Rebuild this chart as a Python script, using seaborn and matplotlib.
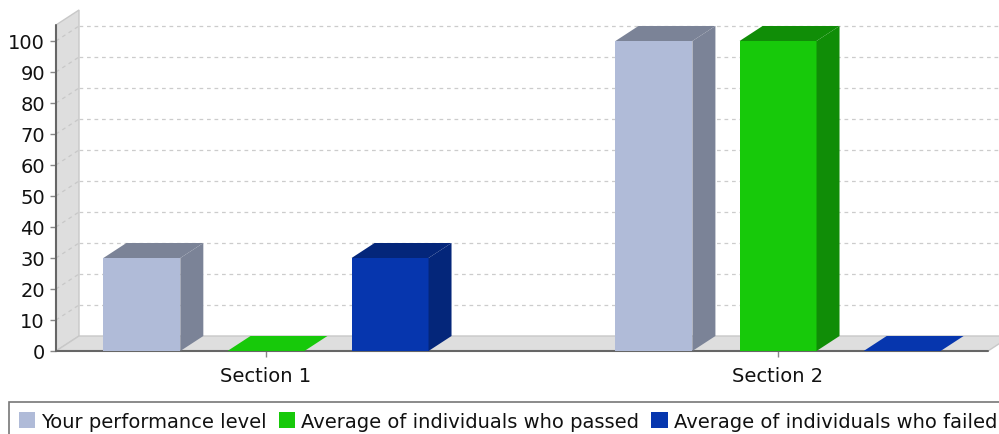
import pandas as pd
import seaborn as sns
import matplotlib.pyplot as plt
import matplotlib.transforms as mtransforms
from matplotlib.patches import Polygon, Patch

# data
sections = ["Section 1", "Section 2"]
series = ["Your performance level",
          "Average of individuals who passed",
          "Average of individuals who failed"]
you = [30, 100]
passed = [0, 100]
failed = [30, 0]
colors = ["#b0bbd8", "#17c90a", "#0636ae"]

rows = []
for i, sec in enumerate(sections):
    for name, vals in zip(series, [you, passed, failed]):
        rows.append({"Section": sec, "Series": name, "Value": vals[i]})
data = pd.DataFrame(rows)

sns.set_style("white")
plt.rcParams["font.family"] = ["DejaVu Sans"]

W, H = 999, 435
fig = plt.figure(figsize=(W / 100, H / 100), dpi=100)
ax = fig.add_axes([56 / W, 83 / H, 932 / W, 326 / H])

sns.barplot(data=data, x="Section", y="Value", hue="Series", palette=colors,
            width=0.727, gap=0.38, legend=False, ax=ax, linewidth=0,
            saturation=1, zorder=5)

ax.set_xlim(-0.41, 1.41)
ax.set_ylim(0, 105.16)
ax.set_yticks(range(0, 101, 10))
ax.set_xlabel("")
ax.set_ylabel("")
for s in ax.spines.values():
    s.set_visible(False)
ax.tick_params(axis="y", length=4, width=1, color="#888888", pad=4,
               labelsize=14, labelcolor="#111111", left=True)
ax.tick_params(axis="x", length=4, width=1, color="#888888", pad=6.5,
               labelsize=14, labelcolor="#111111", bottom=True)

# 3d depth offset in pixels
DX, DY = 23, 15
back = ax.transData + mtransforms.ScaledTranslation(DX / 100, DY / 100, fig.dpi_scale_trans)


def to_back(x, y):
    px, py = ax.transData.transform((x, y))
    return ax.transData.inverted().transform((px + DX, py + DY))


def darker(c, f=0.7):
    return tuple(v * f for v in c[:3])


x0, x1 = ax.get_xlim()
y0, y1 = ax.get_ylim()

# left wall and floor
wall = [(x0, y0), (x0, y1), tuple(to_back(x0, y1)), tuple(to_back(x0, y0))]
ax.add_patch(Polygon(wall, closed=True, fc="#dedede", ec="#c8c8c8", lw=1,
                     clip_on=False, zorder=1))
floor = [(x0, y0), (x1, y0), tuple(to_back(x1, y0)), tuple(to_back(x0, y0))]
ax.add_patch(Polygon(floor, closed=True, fc="#dedede", ec="#c8c8c8", lw=1,
                     clip_on=False, zorder=1))

# grid lines on the back plane and the wall
for v in range(10, 101, 10):
    ax.plot([x0, x1 + 0.1], [v, v], transform=back, color="#cccccc", lw=0.9,
            ls=(0, (3, 3)), clip_on=False, zorder=2)
    bx, by = to_back(x0, v)
    ax.plot([x0, bx], [v, by], color="#c8c8c8", lw=0.9, ls=(0, (3, 3)),
            clip_on=False, zorder=2)

# axis lines
ax.plot([x0, x0], [y0, y1], color="#666666", lw=1.5, clip_on=False, zorder=3)
ax.plot([x0, x1], [y0, y0], color="#666666", lw=1.5, clip_on=False, zorder=3)

# 3d faces for each bar
for p in ax.patches:
    if not hasattr(p, "get_width") or p.get_zorder() != 5:
        continue
    bx0 = p.get_x()
    bx1 = bx0 + p.get_width()
    top = p.get_height()
    dc = darker(p.get_facecolor())
    side = [(bx1, 0), (bx1, top), tuple(to_back(bx1, top)), tuple(to_back(bx1, 0))]
    cap = [(bx0, top), (bx1, top), tuple(to_back(bx1, top)), tuple(to_back(bx0, top))]
    if top > 0:
        ax.add_patch(Polygon(side, closed=True, fc=dc, lw=0, clip_on=False, zorder=6))
        ax.add_patch(Polygon(cap, closed=True, fc=dc, lw=0, clip_on=False, zorder=6))
    else:
        ax.add_patch(Polygon(cap, closed=True, fc=p.get_facecolor(), lw=0,
                             clip_on=False, zorder=6))

handles = [Patch(facecolor=c, edgecolor="none") for c in colors]
leg = fig.legend(handles, series, loc="upper left", ncol=3,
                 bbox_to_anchor=(9 / W, 32 / H), borderaxespad=0,
                 frameon=True, fancybox=False, fontsize=14,
                 handlelength=0.85, handleheight=0.85, handletextpad=0.3,
                 columnspacing=0.62, borderpad=0.5)
leg.get_frame().set_edgecolor("#555555")
leg.get_frame().set_linewidth(1.2)
for t in leg.get_texts():
    t.set_color("#111111")

fig.savefig("out.png", dpi=100)
